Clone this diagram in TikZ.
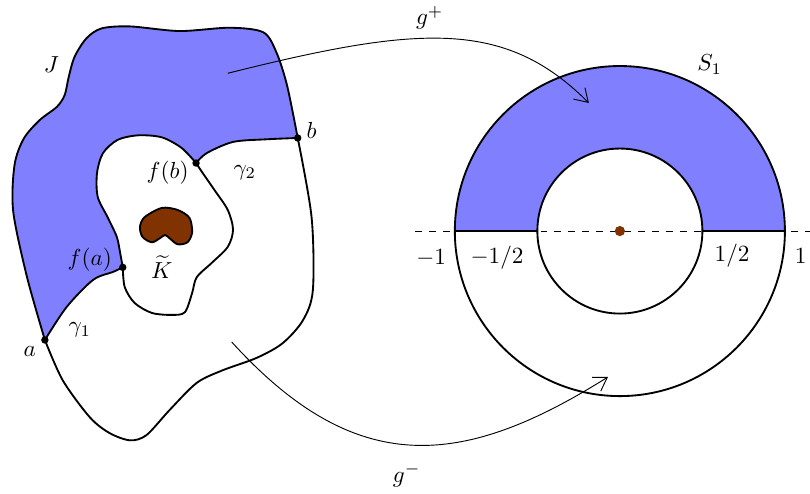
\documentclass[tikz,border=0pt]{standalone}
\usepackage{amsmath,amssymb}
\usepackage{tikz}
\usetikzlibrary{arrows.meta,positioning}
\usepackage{xcolor}
\definecolor{kbrown}{rgb}{0.5,0.2,0}
\definecolor{regblue}{rgb}{0.5,0.5,1}

\begin{document}
\begin{tikzpicture}[>={Straight Barb[length=5.5pt,width=7pt]}, scale=1.0, line join=round]
  \useasboundingbox (-9.39,-3.97) rectangle (2.88,3.5);
  %% Left: the region J with the hole around K
  \begin{scope}
    \coordinate (a) at (-8.71,-1.65);
    \coordinate (b) at (-4.88,1.41);
    \coordinate (fa) at (-7.53,-0.55);
    \coordinate (fb) at (-6.42,1.03);
    % shaded part: outer arc, gamma_2, inner arc, gamma_1
    \filldraw[thick,fill=regblue]
      plot[smooth] coordinates {(a) (-8.98,-0.70) (-9.19,0.30) (-9.17,1.00) (-9.03,1.40)
        (-8.79,1.68) (-8.53,1.88) (-8.41,2.06) (-8.35,2.33) (-8.26,2.64) (-8.08,2.92)
        (-7.85,3.07) (-7.42,3.10) (-6.67,3.03) (-5.91,3.08) (-5.40,3.01) (-5.20,2.70)
        (-5.04,2.20) (b)}
      -- plot[smooth] coordinates {(b) (-5.35,1.39) (-5.86,1.35) (-6.26,1.18) (fb)}
      -- plot[smooth] coordinates {(fb) (-6.64,1.26) (-6.94,1.42) (-7.30,1.45) (-7.61,1.38)
        (-7.83,1.18) (-7.92,0.88) (-7.91,0.52) (-7.76,0.21) (-7.62,-0.09) (-7.57,-0.33) (fa)}
      -- plot[smooth] coordinates {(fa) (-7.68,-0.62) (-7.98,-0.74) (-8.38,-1.15) (a)}
      -- cycle;
    \draw[thick] plot[smooth] coordinates {(b) (-4.67,0.21) (-4.65,-0.89) (-4.80,-1.35)
      (-5.11,-1.70) (-5.50,-1.92) (-6.02,-2.11) (-6.41,-2.30) (-6.82,-2.71) (-7.17,-3.09)
      (-7.42,-3.17) (-7.73,-3.06) (-8.03,-2.82) (-8.44,-2.26) (a)};
    \draw[thick] plot[smooth] coordinates {(fa) (-7.50,-0.85) (-7.35,-1.09) (-7.09,-1.24)
      (-6.79,-1.27) (-6.59,-1.23) (-6.48,-0.94) (-6.41,-0.70) (-6.18,-0.48) (-5.94,-0.24)
      (-5.86,0.02) (-5.94,0.32) (-6.14,0.62) (-6.32,0.88) (fb)};
    % the compact set
    \filldraw[thick,fill=kbrown] plot[smooth cycle] coordinates {(-7.27,0.06) (-7.20,0.21)
      (-6.94,0.35) (-6.70,0.32) (-6.52,0.20) (-6.48,-0.02) (-6.55,-0.17) (-6.70,-0.20)
      (-6.82,-0.11) (-6.89,-0.06) (-6.97,-0.11) (-7.09,-0.17) (-7.23,-0.09)};
    \foreach \p in {a,b,fa,fb}
      \fill (\p) circle (1.6pt);
    \node (lJ) at (-8.61,2.52) {$J$};
    \node (la) at (-8.94,-1.83) {$a$};
    \node (lb) at (-4.67,1.53) {$b$};
    \node (lfa) at (-8.03,-0.44) {$f(a)$};
    \node (lfb) at (-6.85,0.88) {$f(b)$};
    \node (lgam1) at (-8.18,-1.50) {$\gamma_1$};
    \node (lgam2) at (-5.68,0.89) {$\gamma_2$};
    \node[inner sep=1pt] (lK) at (-6.94,-0.54) {$\widetilde{K}$};
  \end{scope}
  %% Right: the annulus S_1
  \begin{scope}
    \fill[regblue] (2.5,0) arc (0:180:2.5) -- (-1.25,0) arc (180:0:1.25) -- cycle;
    \draw[dashed] (-3.1,0) -- (2.88,0);
    \draw[thick] (0,0) circle (2.5);
    \draw[thick] (0,0) circle (1.25);
    \draw[thick] (-2.5,0) -- (-1.25,0);
    \draw[thick] (1.25,0) -- (2.5,0);
    \fill[kbrown] (0,0) circle (2.2pt);
    \node (lS) at (1.36,2.52) {$S_1$};
    \node (lm1) at (-2.86,-0.41) {$-1$};
    \node (lmhalf) at (-1.86,-0.41) {$-1/2$};
    \node (lhalf) at (1.70,-0.38) {$1/2$};
    \node (lone) at (2.74,-0.38) {$1$};
  \end{scope}
  %% maps g^+ and g^-
  \coordinate (gpS) at (-5.94,2.39);
  \coordinate (gpE) at (-0.47,1.94);
  \coordinate (gmS) at (-5.88,-1.68);
  \coordinate (gmE) at (-0.18,-2.21);
  \draw[->] (gpS) .. controls (-3.03,3.12) and (-1.74,3.21) .. (gpE);
  \draw[->] (gmS) .. controls (-3.99,-3.76) and (-2.38,-3.59) .. (gmE);
  \node (gplus) at (-2.88,3.23) {$g^+$};
  \node (gminus) at (-3.23,-3.70) {$g^-$};
\end{tikzpicture}
\end{document}
